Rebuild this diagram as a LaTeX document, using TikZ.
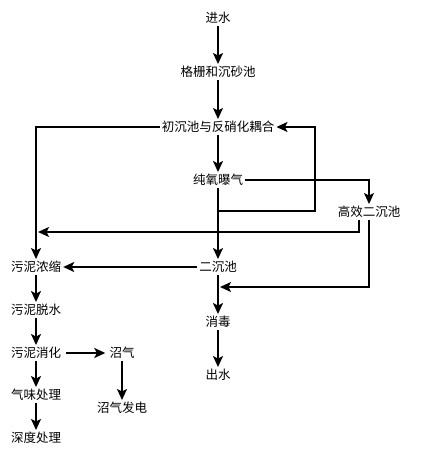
\documentclass[tikz,border=0pt]{standalone}
\usepackage{fontspec}
\setmainfont{Noto Sans CJK SC}
\usetikzlibrary{arrows.meta,calc}
\tikzset{
  lbl/.style={inner sep=2pt, font=\fontsize{12.5}{14}\selectfont, text=black},
  flow/.style={line width=1.6pt, -{Stealth[length=11pt,width=10pt,inset=2.5pt]}},
  plain/.style={line width=1.6pt}
}
\begin{document}
\begin{tikzpicture}[x=1pt,y=-1pt]
\useasboundingbox[fill=white] (0,0) rectangle (420,452);
\node[lbl] (in) at (218,18) {进水};
\node[lbl] (gs) at (218,72) {格栅和沉砂池};
\node[lbl] (cc) at (218,127) {初沉池与反硝化耦合};
\node[lbl] (cy) at (218,180) {纯氧曝气};
\node[lbl] (gx) at (369,212) {高效二沉池};
\node[lbl] (ec) at (218,267) {二沉池};
\node[lbl] (xd) at (218,322) {消毒};
\node[lbl] (cs) at (218,375) {出水};
\node[lbl] (nn) at (36,267) {污泥浓缩};
\node[lbl] (ts) at (36,310) {污泥脱水};
\node[lbl] (xh) at (36,353) {污泥消化};
\node[lbl] (zq) at (122,353) {沼气};
\node[lbl] (wc) at (36,395) {气味处理};
\node[lbl] (fd) at (122,408) {沼气发电};
\node[lbl] (sd) at (36,438) {深度处理};
\coordinate (r1) at (218,211);
\coordinate (r2) at (315,127);
\coordinate (g1) at (359,220);
\coordinate (j1) at (38,232);
\coordinate (j2) at (220,287);
\draw[flow] (in) -- (gs);
\draw[flow] (gs) -- (cc);
\draw[flow] (cc.west) -| (nn.north);
\draw[flow] (cc) -- (cy);
\draw[flow] (cy.east) -| (gx.north);
\draw[flow] (cy) -- (ec);
\draw[flow] (r1) -| (r2) -- (cc.east);
\draw[flow] (g1) |- (j1);
\draw[flow] (gx.south) |- (j2);
\draw[flow] (ec.west) -- (nn.east);
\draw[flow] (ec) -- (xd);
\draw[flow] (xd) -- (cs);
\draw[flow] (nn) -- (ts);
\draw[flow] (ts) -- (xh);
\draw[flow] ($(xh.east)+(3,0)$) -- ($(zq.west)+(-2,0)$);
\draw[flow] (zq) -- (fd);
\draw[flow] (xh) -- (wc);
\draw[flow] (wc) -- (sd);
\end{tikzpicture}
\end{document}
